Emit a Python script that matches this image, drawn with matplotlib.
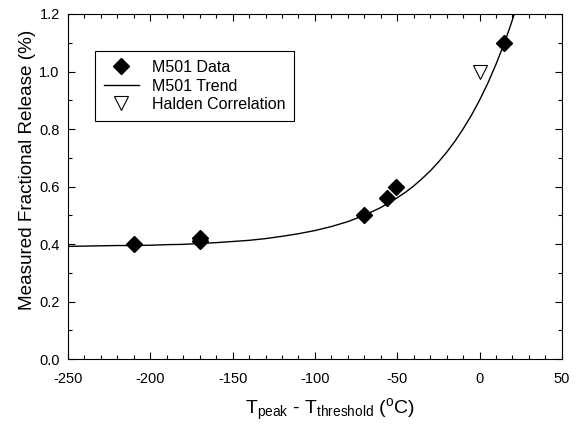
import matplotlib
matplotlib.use('Agg')
import matplotlib.pyplot as plt
from matplotlib.ticker import MultipleLocator

plt.rcParams['font.family'] = ['Liberation Sans', 'DejaVu Sans']
plt.rcParams['mathtext.fontset'] = 'custom'
plt.rcParams['mathtext.rm'] = 'Liberation Sans'
plt.rcParams['mathtext.it'] = 'Liberation Sans'
plt.rcParams['axes.unicode_minus'] = False

# M501 measured data
data_x = [-210, -170, -170, -70, -56, -51, 15]
data_y = [0.40, 0.41, 0.42, 0.50, 0.56, 0.60, 1.10]

# Halden correlation
halden_x = [0]
halden_y = [1.0]

# M501 trend curve
trend_x = [-250, -240, -230, -220, -210, -200, -190, -180, -170, -160, -150,
           -140, -130, -120, -110, -100, -90, -80, -70, -60, -50, -45, -40,
           -35, -30, -25, -20, -15, -10, -5, 0, 5, 10, 15, 18, 20, 22]
trend_y = [0.392, 0.393, 0.394, 0.395, 0.395, 0.396, 0.398, 0.399, 0.402,
           0.405, 0.409, 0.413, 0.419, 0.427, 0.436, 0.447, 0.461, 0.478,
           0.500, 0.527, 0.561, 0.580, 0.602, 0.627, 0.654, 0.685, 0.719,
           0.757, 0.800, 0.847, 0.900, 0.959, 1.025, 1.098, 1.146, 1.180,
           1.216]

fig = plt.figure(figsize=(5.81, 4.24), dpi=100)
ax = fig.add_axes([0.117, 0.153, 0.850, 0.814])

ax.plot(data_x, data_y, linestyle='none', marker='D', markersize=8.5,
        color='black', label='M501 Data', zorder=3)
ax.plot(trend_x, trend_y, color='black', linewidth=1.0, label='M501 Trend')
ax.plot(halden_x, halden_y, linestyle='none', marker='v', markersize=10,
        markerfacecolor='white', markeredgecolor='black', markeredgewidth=0.8,
        label='Halden Correlation')

ax.set_xlim(-250, 50)
ax.set_ylim(0, 1.2)
ax.xaxis.set_major_locator(MultipleLocator(50))
ax.xaxis.set_minor_locator(MultipleLocator(10))
ax.yaxis.set_major_locator(MultipleLocator(0.2))
ax.yaxis.set_minor_locator(MultipleLocator(0.1))
ax.yaxis.set_major_formatter(plt.FormatStrFormatter('%.1f'))
ax.tick_params(which='both', direction='in', top=True, right=True,
               labelsize=10.5, width=0.8)
ax.tick_params(which='major', length=5)
ax.tick_params(which='minor', length=3)
ax.tick_params(axis='x', which='major', pad=9)
ax.tick_params(axis='y', which='major', pad=6)
for s in ax.spines.values():
    s.set_linewidth(0.8)

ax.set_xlabel(r'T$_{\mathrm{peak}}$ - T$_{\mathrm{threshold}}$ ($^{\mathrm{o}}$C)',
              fontsize=14)
ax.xaxis.set_label_coords(0.53, -0.108)
ax.set_ylabel('Measured Fractional Release (%)', fontsize=13.6)
ax.yaxis.set_label_coords(-0.064, 0.548)

leg = ax.legend(loc='upper left', bbox_to_anchor=(0.055, 0.892),
                fontsize=11.5, fancybox=False, edgecolor='black',
                framealpha=1, borderaxespad=0, handlelength=2.2,
                labelspacing=0.22, borderpad=0.55)
leg.get_frame().set_linewidth(0.8)

plt.savefig('out.png', dpi=100)
